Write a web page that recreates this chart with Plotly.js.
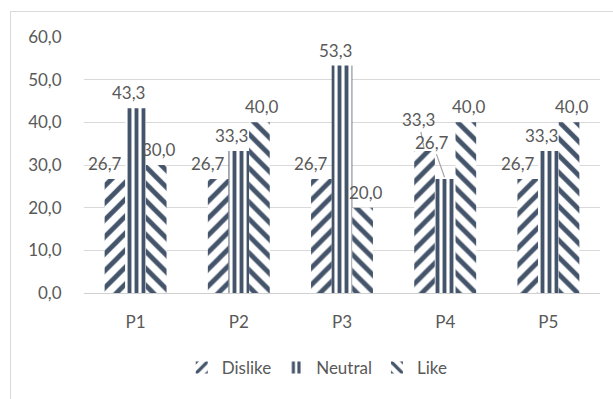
<!DOCTYPE html>
<html>
<head>
<meta charset="utf-8">
<script src="https://cdn.plot.ly/plotly-3.0.1.min.js"></script>
<style>
  html, body { margin: 0; padding: 0; background: #ffffff; overflow: hidden; }
  #frame {
    position: absolute; left: 10px; top: 11px;
    width: 602px; height: 387px;
    border-left: 1px solid #d9d9d9; border-top: 1px solid #d9d9d9;
  }
</style>
</head>
<body>
<div id="frame"></div>
<script>
// Survey answers per question, in percent
const questions = ['P1', 'P2', 'P3', 'P4', 'P5'];
const dislike = [26.7, 26.7, 26.7, 33.3, 26.7];
const neutral = [43.3, 33.3, 53.3, 26.7, 33.3];
const like    = [30.0, 40.0, 20.0, 40.0, 40.0];
const yTicks  = [0, 10, 20, 30, 40, 50, 60];

const ink = '#44546A';
const textGrey = '#595959';
const FONT = 'Lato, "Open Sans", sans-serif';
const BARGAP = 0.4;

const fmt = v => v.toFixed(1).replace('.', ',');

function series(name, vals, shape, size, solidity) {
  return {
    type: 'bar', name: name, x: questions, y: vals,
    marker: {
      color: '#ffffff',
      line: { width: 0 },
      pattern: { shape: shape, fgcolor: ink, bgcolor: '#ffffff', size: size, solidity: solidity, fillmode: 'replace' }
    },
    hoverinfo: 'skip'
  };
}

const data = [
  series('Dislike', dislike, '/', 12, 0.4),
  series('Neutral', neutral, '|', 7, 0.55),
  series('Like', like, '\\', 12, 0.4)
];

// Value labels are annotations so they sit above the neighbouring bars.
// Bar width in category units locates each bar's centre within its group.
const barW = (1 - BARGAP) / 3;
const labelFont = { family: FONT, size: 17, color: textGrey };
const groups = [
  { vals: dislike, slot: -1, nudge: -10 },
  { vals: neutral, slot: 0, nudge: -7 },
  { vals: like, slot: 1, nudge: 3 }
];
const p4 = questions.indexOf('P4');
const annotations = [];
groups.forEach(g => {
  g.vals.forEach((v, i) => {
    if (i === p4 && g.slot < 1) return; // crowded pair handled with leader lines
    annotations.push({
      x: i + g.slot * barW, y: v, xref: 'x', yref: 'y', text: fmt(v),
      showarrow: false, yanchor: 'bottom', yshift: 3, xshift: g.nudge,
      font: labelFont
    });
  });
});
const leader = (x, y, ax, ay) => ({
  x: x, y: y, xref: 'x', yref: 'y', text: fmt(y),
  showarrow: true, arrowhead: 0, arrowwidth: 1.2, arrowcolor: '#a6a6a6',
  ax: ax, ay: ay, standoff: 2, font: labelFont
});
annotations.push(leader(p4 - barW, dislike[p4], -6, -31));
annotations.push(leader(p4, neutral[p4], -13, -37));

const layout = {
  width: 602, height: 387,
  margin: { l: 73, r: 13, t: 25, b: 106 },
  paper_bgcolor: '#ffffff', plot_bgcolor: '#ffffff',
  separators: ', ',
  barmode: 'group', bargap: BARGAP, bargroupgap: 0,
  showlegend: true,
  legend: {
    orientation: 'h', x: 0.452, xanchor: 'center', y: -0.293, yanchor: 'middle',
    font: { family: FONT, size: 17, color: textGrey },
    itemwidth: 30, traceorder: 'normal'
  },
  xaxis: {
    type: 'category', showgrid: false, zeroline: false,
    showline: true, linecolor: '#d0d0d0', linewidth: 1,
    ticks: 'outside', ticklen: 14, tickcolor: 'rgba(0,0,0,0)',
    tickfont: { family: FONT, size: 17, color: textGrey }
  },
  yaxis: {
    range: [0, 60], tickvals: yTicks, tickformat: '.1f',
    showgrid: true, gridcolor: '#d9d9d9', gridwidth: 1,
    zeroline: false, showline: false,
    ticks: 'outside', ticklen: 18, tickcolor: 'rgba(0,0,0,0)',
    tickfont: { family: FONT, size: 17, color: textGrey }
  },
  annotations: annotations
};

Plotly.newPlot('frame', data, layout, { displayModeBar: false, staticPlot: true });
</script>
</body>
</html>
